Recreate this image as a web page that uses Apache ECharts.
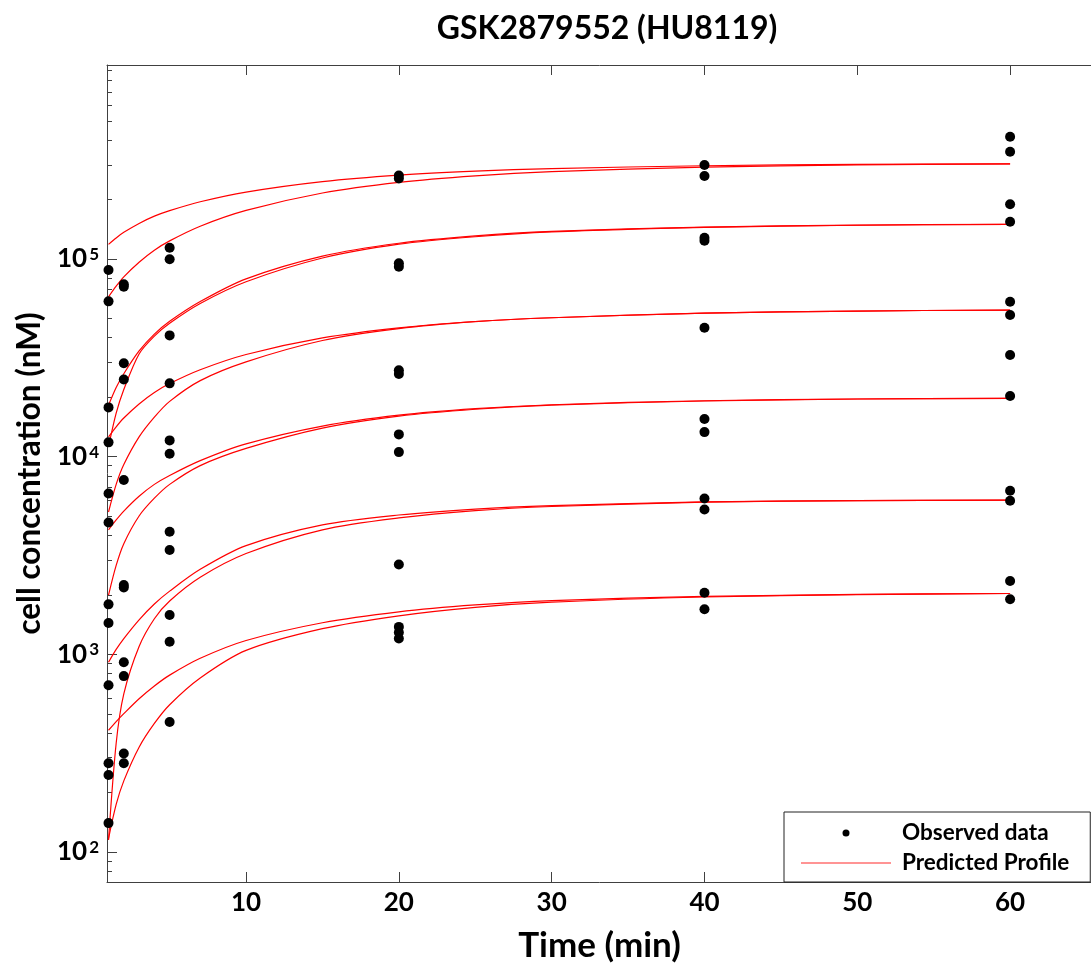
<!DOCTYPE html>
<html>
<head>
<meta charset="utf-8">
<script src="https://cdn.jsdelivr.net/npm/echarts@6/dist/echarts.min.js"></script>
<style>
  html, body { margin: 0; padding: 0; background: #fff; }
  #chart { width: 1091px; height: 964px; }
</style>
</head>
<body>
<div id="chart"></div>
<script>
// Sampling times (min) for the predicted profiles
const profileTimes = [1, 1.5, 2, 3, 4, 5, 7, 10, 15, 20, 25, 30, 40, 50, 60];

// Predicted profiles (nM), two per dose level
const profileA1 = [118600, 127900, 136500, 151400, 164800, 175800, 195000, 218300, 246600, 266100, 278600, 286800, 296500, 301300, 303400];
const profileA2 = [64400, 72900, 81300, 96400, 110900, 123600, 146600, 176200, 215800, 244300, 263600, 276700, 291700, 299600, 303400];
const profileB1 = [18200, 22390, 26300, 34280, 41690, 48420, 60950, 79430, 103500, 120200, 130900, 138000, 145200, 148600, 149800];
const profileB2 = [11220, 16600, 21880, 33110, 40740, 47320, 59570, 76740, 101200, 118900, 129700, 137100, 144500, 148300, 149800];
const profileC1 = [12590, 14170, 15700, 18490, 21130, 23440, 27540, 32890, 39900, 44870, 48310, 50470, 53210, 54580, 55210];
const profileC2 = [5250, 7240, 9120, 12590, 15850, 19050, 24270, 30200, 38730, 44460, 48190, 50470, 53210, 54580, 55210];
const profileD1 = [4266, 4786, 5309, 6310, 7244, 8035, 9550, 11610, 14290, 16220, 17500, 18320, 19190, 19590, 19720];
const profileD2 = [1995, 2818, 3631, 5012, 6166, 7244, 9016, 11020, 13960, 16030, 17380, 18240, 19140, 19590, 19720];
const profileE1 = [912, 1059, 1202, 1496, 1799, 2089, 2692, 3548, 4519, 5070, 5433, 5649, 5902, 5998, 6032];
const profileE2 = [115, 355, 631, 1096, 1514, 1862, 2455, 3236, 4266, 4898, 5333, 5598, 5888, 5998, 6032];
const profileF1 = [413, 457, 501, 596, 692, 785, 955, 1175, 1445, 1641, 1778, 1871, 1963, 2009, 2032];
const profileF2 = [117, 174, 229, 339, 447, 556, 759, 1047, 1349, 1567, 1730, 1837, 1950, 2004, 2032];
const profiles = [profileA1, profileA2, profileB1, profileB2, profileC1, profileC2,
                  profileD1, profileD2, profileE1, profileE2, profileF1, profileF2];

// Observed concentrations (nM) at each sampling time
const obsTimes = [1, 2, 5, 20, 40, 60];
const obsAt1  = [88000, 61100, 17760, 11820, 6520, 4650, 1790, 1440, 698, 281, 245, 140];
const obsAt2  = [74500, 72400, 29700, 24600, 7620, 2240, 2180, 913, 776, 315, 281];
const obsAt5  = [114100, 99700, 41100, 23500, 12090, 10340, 4170, 3370, 1580, 1157, 455];
const obsAt20 = [264700, 255600, 95100, 91400, 27400, 26200, 12970, 10550, 2850, 1377, 1290, 1204];
const obsAt40 = [299000, 263000, 128200, 123800, 44900, 15500, 13320, 6150, 5410, 2050, 1690];
const obsAt60 = [415900, 349100, 189200, 154400, 60800, 52100, 32700, 20300, 6720, 5980, 2350, 1900];
const observed = [obsAt1, obsAt2, obsAt5, obsAt20, obsAt40, obsAt60];

// Axis ticks
const xTicks = [10, 20, 30, 40, 50, 60];
const yMajorTicks = [100, 1000, 10000, 100000];
const yMinorTicks = [80, 90,
  200, 300, 400, 500, 600, 700, 800, 900,
  2000, 3000, 4000, 5000, 6000, 7000, 8000, 9000,
  20000, 30000, 40000, 50000, 60000, 70000, 80000, 90000,
  200000, 300000, 400000, 500000, 600000, 700000, 800000, 900000];

const FONT = 'Lato';
const AXIS_COLOR = '#404040';
const X_MIN = 0.9, X_MAX = 65.36;
const Y_MIN = 70.5, Y_MAX = 959000;

const scatterData = [];
observed.forEach((vals, i) => vals.forEach(v => scatterData.push([obsTimes[i], v])));

const lineSeries = profiles.map(p => ({
  name: 'Predicted Profile',
  type: 'line',
  xAxisIndex: 0,
  yAxisIndex: 0,
  data: profileTimes.map((t, i) => [t, p[i]]),
  symbol: 'none',
  showSymbol: false,
  smooth: 0.3,
  lineStyle: { color: '#ff0000', width: 1.2 },
  itemStyle: { color: '#ff0000' },
  silent: true,
  z: 2
}));

const chart = echarts.init(document.getElementById('chart'), null, { renderer: 'canvas' });

chart.setOption({
  animation: false,
  backgroundColor: '#ffffff',
  title: {
    text: 'GSK2879552 (HU8119)',
    left: 602,
    top: 8,
    textAlign: 'center',
    textStyle: { fontFamily: FONT, fontWeight: 'bold', fontSize: 32, color: '#000' }
  },
  grid: { left: 107, top: 65, width: 985, height: 817, containLabel: false, outerBoundsMode: 'none' },
  legend: {
    orient: 'vertical',
    left: 784,
    top: 812,
    padding: [8, 21, 6, 17],
    itemGap: 4,
    itemWidth: 90,
    itemHeight: 7,
    symbolKeepAspect: true,
    backgroundColor: '#ffffff',
    borderColor: '#222',
    borderWidth: 1,
    borderRadius: 0,
    textStyle: { fontFamily: FONT, fontWeight: 'bold', fontSize: 22.5, color: '#000', lineHeight: 26, padding: [0, 0, 0, 6] },
    data: [
      { name: 'Observed data', icon: 'circle', itemStyle: { color: '#000' } },
      { name: 'Predicted Profile', icon: 'path://M0,0L90,0L90,1.6L0,1.6Z', itemStyle: { color: '#ff7070' } }
    ],
    z: 10
  },
  xAxis: [{
    type: 'value',
    position: 'bottom',
    min: X_MIN,
    max: X_MAX,
    name: 'Time (min)',
    nameLocation: 'middle',
    nameGap: 46,
    nameTextStyle: { fontFamily: FONT, fontWeight: 'bold', fontSize: 35, color: '#000' },
    axisLine: { show: true, onZero: false, lineStyle: { color: AXIS_COLOR, width: 1 } },
    axisTick: { show: true, inside: true, length: 10, customValues: xTicks, lineStyle: { color: AXIS_COLOR } },
    axisLabel: { show: true, customValues: xTicks, margin: 8, fontFamily: FONT, fontWeight: 'bold', fontSize: 26, color: '#000' },
    splitLine: { show: false }
  }, {
    type: 'value',
    position: 'top',
    min: X_MIN,
    max: X_MAX,
    axisLine: { show: true, onZero: false, lineStyle: { color: AXIS_COLOR, width: 1 } },
    axisTick: { show: true, inside: true, length: 10, customValues: xTicks, lineStyle: { color: AXIS_COLOR } },
    axisLabel: { show: false },
    splitLine: { show: false }
  }],
  yAxis: [{
    type: 'log',
    logBase: 10,
    position: 'left',
    min: Y_MIN,
    max: Y_MAX,
    name: 'cell concentration (nM)',
    nameLocation: 'middle',
    nameRotate: 90,
    nameGap: 53,
    nameTextStyle: { fontFamily: FONT, fontWeight: 'bold', fontSize: 31.5, color: '#000' },
    axisLine: { show: true, onZero: false, lineStyle: { color: AXIS_COLOR, width: 1 } },
    axisTick: { show: true, inside: true, length: 10, customValues: yMajorTicks, lineStyle: { color: AXIS_COLOR } },
    axisLabel: {
      show: true,
      customValues: yMajorTicks,
      margin: 8,
      formatter: v => '{b|10}{s|' + Math.round(Math.log10(v)) + '}',
      rich: {
        b: { fontFamily: FONT, fontWeight: 'bold', fontSize: 26, lineHeight: 26, color: '#000', verticalAlign: 'bottom' },
        s: { fontFamily: FONT, fontWeight: 'bold', fontSize: 17, lineHeight: 17, color: '#000', verticalAlign: 'top', padding: [0, 0, 17, 2] }
      }
    },
    splitLine: { show: false }
  }, {
    type: 'log',
    logBase: 10,
    position: 'left',
    min: Y_MIN,
    max: Y_MAX,
    axisLine: { show: false },
    axisTick: { show: true, inside: true, length: 5, customValues: yMinorTicks, lineStyle: { color: AXIS_COLOR } },
    axisLabel: { show: false },
    splitLine: { show: false }
  }],
  series: [
    {
      name: 'Observed data',
      type: 'scatter',
      xAxisIndex: 0,
      yAxisIndex: 0,
      data: scatterData,
      symbol: 'circle',
      symbolSize: 10,
      itemStyle: { color: '#000', opacity: 1 },
      silent: true,
      z: 3
    }
  ].concat(lineSeries)
});
</script>
</body>
</html>
